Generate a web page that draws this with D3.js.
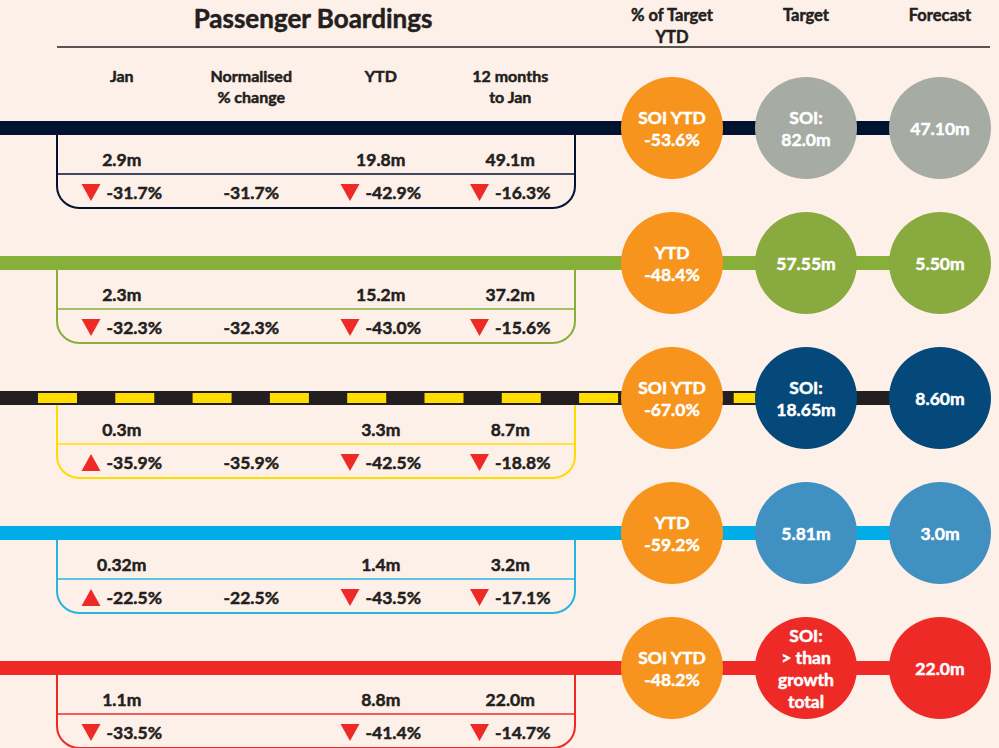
<!DOCTYPE html>
<html lang="en">
<head>
<meta charset="UTF-8">
<title>Passenger Boardings</title>
<script src="https://d3js.org/d3.v7.min.js"></script>
<style>
  body { margin: 0; background: #fdf0e9; font-family: Lato, sans-serif; }
  svg text { font-weight: bold; stroke-width: 0.5px; stroke-linejoin: round; }
</style>
</head>
<body>
<div id="chart"></div>
<script>
var width = 999, height = 748;
var ink = "#231f20";

// one entry per line of the diagram
var rows = ["r1", "r2", "r3", "r4", "r5"];
var lineColors = ["#021331", "#86b03a", "#231f20", "#00ade6", "#ee2a27"];
var boxColors = ["#021331", "#86b03a", "#ffdd00", "#27b4e0", "#ee2a27"];
var circleColors = ["#a6aba4", "#89aa3e", "#04497a", "#4090c2", "#ee2a27"];
var pctColor = "#f7941d";

var boxCols = ["Jan", "Normalised\n% change", "YTD", "12 months\nto Jan"];
var boardings = [
  ["2.9m", "", "19.8m", "49.1m"],
  ["2.3m", "", "15.2m", "37.2m"],
  ["0.3m", "", "3.3m", "8.7m"],
  ["0.32m", "", "1.4m", "3.2m"],
  ["1.1m", "", "8.8m", "22.0m"]
];
var changes = [
  ["-31.7%", "-31.7%", "-42.9%", "-16.3%"],
  ["-32.3%", "-32.3%", "-43.0%", "-15.6%"],
  ["-35.9%", "-35.9%", "-42.5%", "-18.8%"],
  ["-22.5%", "-22.5%", "-43.5%", "-17.1%"],
  ["-33.5%", "", "-41.4%", "-14.7%"]
];
var arrows = [
  ["down", "", "down", "down"],
  ["down", "", "down", "down"],
  ["up", "", "down", "down"],
  ["up", "", "down", "down"],
  ["down", "", "down", "down"]
];

var circleCols = ["% of Target\nYTD", "Target", "Forecast"];
var pctOfTarget = [
  ["SOI YTD", "-53.6%"],
  ["YTD", "-48.4%"],
  ["SOI YTD", "-67.0%"],
  ["YTD", "-59.2%"],
  ["SOI YTD", "-48.2%"]
];
var targets = [
  ["SOI:", "82.0m"],
  ["57.55m"],
  ["SOI:", "18.65m"],
  ["5.81m"],
  ["SOI:", "> than", "growth", "total"]
];
var forecasts = [["47.10m"], ["5.50m"], ["8.60m"], ["3.0m"], ["22.0m"]];

var svg = d3.select("#chart").append("svg")
    .attr("width", width)
    .attr("height", height)
    .style("display", "block");

var y = d3.scalePoint().domain(rows).range([128, 668]);
var x = d3.scaleBand().domain(boxCols).range([57, 575]);
var cx = d3.scalePoint().domain(circleCols).range([672, 940]);
var r = 51, lineW = 14, cornerR = 22;

// headers
svg.append("text")
    .attr("x", 313)
    .attr("y", 28)
    .attr("text-anchor", "middle")
    .style("font-size", "26px")
    .attr("fill", ink).attr("stroke", ink)
    .text("Passenger Boardings");

svg.append("line")
    .attr("x1", 57).attr("x2", 990)
    .attr("y1", 47).attr("y2", 47)
    .attr("stroke", ink).attr("stroke-width", 1.5);

function multiline(sel, lines, lh) {
  lines.forEach(function(t, i) {
    sel.append("tspan").attr("x", sel.attr("x")).attr("dy", i ? lh : 0).text(t);
  });
}

boxCols.forEach(function(c) {
  svg.append("text")
      .attr("x", x(c) + x.bandwidth() / 2)
      .attr("y", 82)
      .attr("text-anchor", "middle")
      .style("font-size", "16px")
      .attr("fill", ink).attr("stroke", ink)
      .call(multiline, c.split("\n"), 21);
});

circleCols.forEach(function(c) {
  svg.append("text")
      .attr("x", cx(c))
      .attr("y", 21)
      .attr("text-anchor", "middle")
      .style("font-size", "16.5px")
      .attr("fill", ink).attr("stroke", ink)
      .call(multiline, c.split("\n"), 22);
});

// rows
rows.forEach(function(row, i) {
  var cy = y(row);
  var g = svg.append("g");

  g.append("line")
      .attr("x1", 0).attr("x2", cx(circleCols[2]))
      .attr("y1", cy).attr("y2", cy)
      .attr("stroke", lineColors[i]).attr("stroke-width", lineW);

  if (i === 2) {
    g.append("line")
        .attr("x1", 38).attr("x2", cx(circleCols[1]))
        .attr("y1", cy).attr("y2", cy)
        .attr("stroke", "#ffdd00").attr("stroke-width", 10)
        .attr("stroke-dasharray", "39 38.3");
  }

  // box below the line
  var x0 = x.range()[0], x1 = x.range()[1];
  var top = cy + lineW / 2, bot = cy + 80;
  var p = d3.path();
  p.moveTo(x0, top);
  p.lineTo(x0, bot - cornerR);
  p.arcTo(x0, bot, x0 + cornerR, bot, cornerR);
  p.lineTo(x1 - cornerR, bot);
  p.arcTo(x1, bot, x1, bot - cornerR, cornerR);
  p.lineTo(x1, top);
  g.append("path")
      .attr("d", p.toString())
      .attr("fill", "none")
      .attr("stroke", boxColors[i]).attr("stroke-width", 2);
  g.append("line")
      .attr("x1", x0).attr("x2", x1)
      .attr("y1", cy + 46).attr("y2", cy + 46)
      .attr("stroke", boxColors[i]).attr("stroke-width", 1.5);

  boxCols.forEach(function(c, j) {
    var mid = x(c) + x.bandwidth() / 2;
    g.append("text")
        .attr("x", mid).attr("y", cy + 38)
        .attr("text-anchor", "middle")
        .style("font-size", "17.5px")
        .attr("fill", ink).attr("stroke", ink)
        .text(boardings[i][j]);

    var cg = g.append("g");
    var t = cg.append("text")
        .attr("y", cy + 71)
        .style("font-size", "17.5px")
        .attr("fill", ink).attr("stroke", ink)
        .text(changes[i][j]);
    var tw = t.node().getComputedTextLength();
    if (arrows[i][j]) {
      var aw = 19, base = cy + 71;
      var pts = arrows[i][j] === "down"
        ? [[0, base - 15], [aw, base - 15], [aw / 2, base + 2]]
        : [[0, base + 2], [aw, base + 2], [aw / 2, base - 15]];
      cg.append("polygon")
          .attr("points", pts.map(function(q) { return q.join(","); }).join(" "))
          .attr("fill", "#ee2a27");
      t.attr("x", aw + 6);
      cg.attr("transform", "translate(" + (mid - (aw + 6 + tw) / 2) + ",0)");
    } else {
      t.attr("x", mid).attr("text-anchor", "middle");
    }
  });

  // circles
  var circleData = [
    { col: circleCols[0], fill: pctColor, lines: pctOfTarget[i] },
    { col: circleCols[1], fill: circleColors[i], lines: targets[i] },
    { col: circleCols[2], fill: circleColors[i], lines: forecasts[i] }
  ];
  circleData.forEach(function(d) {
    g.append("circle")
        .attr("cx", cx(d.col)).attr("cy", cy).attr("r", r)
        .attr("fill", d.fill);
    var lh = 22;
    g.append("text")
        .attr("x", cx(d.col))
        .attr("y", cy - (d.lines.length - 1) * lh / 2 + 7)
        .attr("text-anchor", "middle")
        .style("font-size", "17.5px")
        .attr("fill", "#fff").attr("stroke", "#fff")
        .call(multiline, d.lines, lh);
  });
});
</script>
</body>
</html>
